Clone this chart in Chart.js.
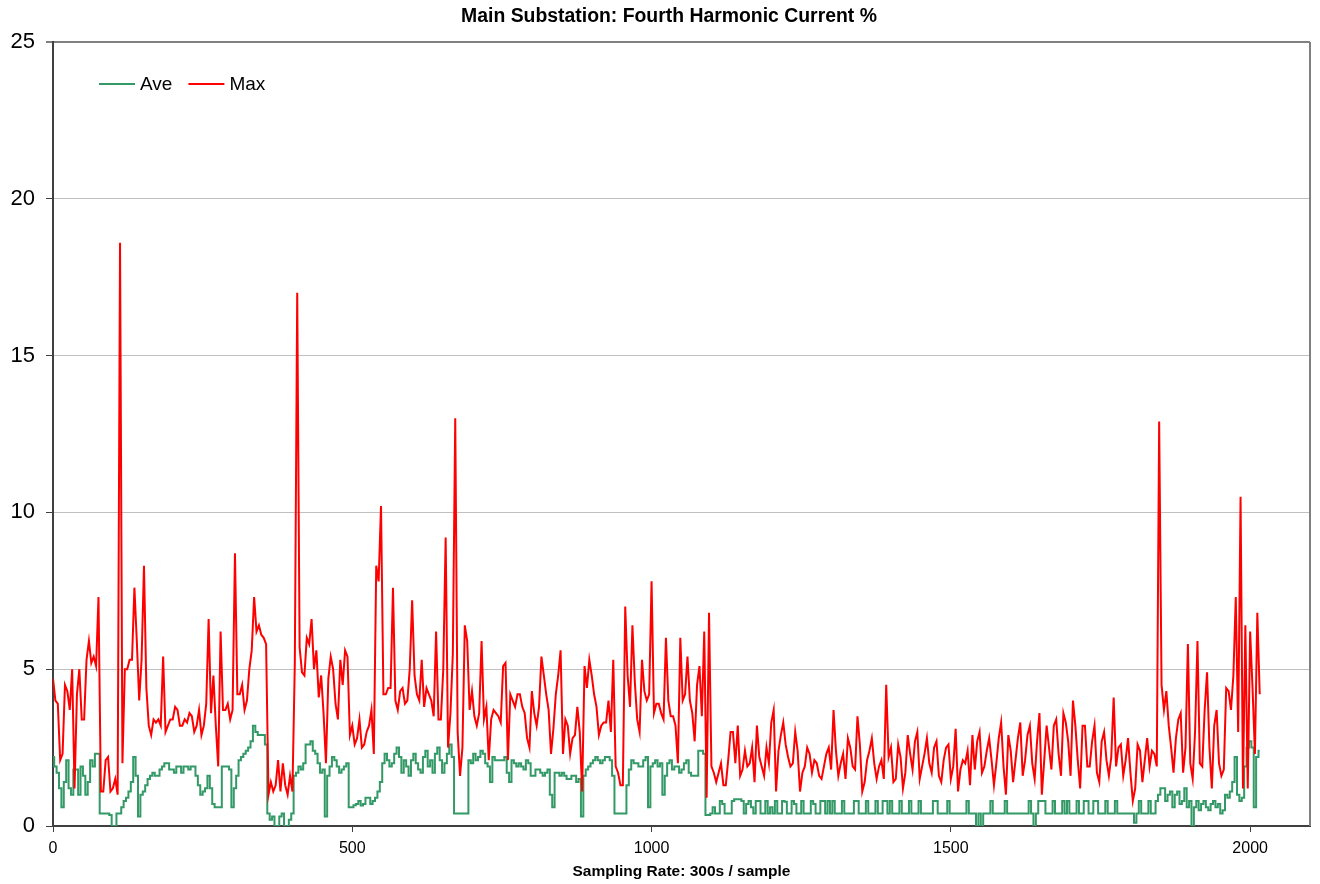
<!DOCTYPE html>
<html>
<head>
<meta charset="utf-8">
<title>Main Substation: Fourth Harmonic Current %</title>
<script src="https://cdn.jsdelivr.net/npm/chart.js@4.4.1/dist/chart.umd.min.js"></script>
<style>
    html, body { margin: 0; padding: 0; background: #fff; }
    #wrap { width: 1320px; height: 884px; position: relative; }
</style>
</head>
<body>
<div id="wrap"><canvas id="myChart"></canvas></div>
<script>
// one value every 4 samples (300 s / sample), 16 per row = 64 samples
const sampleStep = 4;

const maxValues = [
    4.7, 4.0, 3.9, 2.1, 2.3, 4.5, 4.3, 3.7, 5.0, 1.2, 4.2, 5.0, 3.4, 3.4, 5.3, 5.9,
    5.2, 5.4, 5.1, 7.3, 1.1, 1.1, 2.1, 2.2, 1.1, 1.2, 1.5, 1.0, 18.6, 2.0, 5.0, 5.0,
    5.3, 5.3, 7.6, 5.9, 4.0, 5.3, 8.3, 4.4, 3.2, 2.9, 3.4, 3.3, 3.4, 3.2, 5.4, 3.0,
    3.2, 3.4, 3.4, 3.8, 3.7, 3.2, 3.2, 3.4, 3.3, 3.6, 3.5, 3.0, 3.2, 3.7, 2.9, 3.2,
    3.9, 6.6, 3.6, 4.8, 3.2, 1.9, 6.2, 3.7, 3.7, 3.9, 3.4, 3.7, 8.7, 4.2, 4.2, 4.5,
    3.7, 4.0, 5.0, 5.6, 7.3, 6.2, 6.4, 6.1, 6.0, 5.8, 1.0, 1.4, 1.1, 1.3, 2.1, 1.1,
    2.0, 1.3, 1.0, 1.6, 1.1, 5.2, 17.0, 5.7, 4.9, 4.8, 6.0, 5.8, 6.6, 5.0, 5.6, 4.1,
    4.8, 3.6, 2.0, 4.7, 5.4, 5.0, 3.9, 3.4, 5.3, 4.5, 5.6, 5.4, 2.9, 3.2, 2.6, 2.8,
    3.4, 2.5, 2.6, 3.0, 3.2, 3.7, 2.3, 8.3, 7.8, 10.2, 4.2, 4.2, 4.4, 4.4, 7.6, 4.0,
    3.7, 4.3, 4.4, 3.9, 4.0, 5.0, 7.2, 4.8, 4.2, 4.0, 5.3, 3.8, 4.4, 4.2, 4.0, 3.5,
    6.2, 3.4, 3.4, 5.0, 9.2, 2.5, 3.6, 5.5, 13.0, 3.0, 1.6, 2.5, 6.4, 5.9, 3.7, 4.3,
    3.5, 3.2, 3.6, 5.9, 3.4, 3.8, 2.1, 3.4, 3.7, 3.6, 3.5, 3.3, 5.1, 5.2, 2.1, 4.2,
    4.0, 3.8, 4.2, 4.2, 3.8, 3.6, 2.8, 2.5, 4.3, 3.6, 3.2, 3.8, 5.4, 4.8, 4.2, 3.7,
    2.3, 3.1, 4.2, 4.8, 5.6, 2.3, 3.4, 3.2, 2.3, 2.8, 2.9, 3.8, 3.0, 1.1, 5.1, 4.4,
    5.3, 4.8, 4.2, 3.8, 2.9, 3.2, 3.3, 3.3, 4.0, 3.0, 5.3, 1.9, 1.7, 1.3, 1.3, 7.0,
    4.8, 3.8, 6.4, 4.6, 3.4, 3.0, 5.3, 4.3, 4.0, 4.2, 7.8, 3.6, 3.9, 3.9, 3.6, 3.4,
    6.0, 4.0, 3.5, 3.5, 3.2, 2.0, 6.0, 4.0, 4.2, 5.4, 4.0, 3.6, 2.7, 4.5, 5.1, 3.5,
    6.2, 0.9, 6.8, 1.9, 1.7, 1.4, 1.7, 2.0, 1.3, 1.3, 2.1, 3.0, 3.0, 2.0, 3.2, 1.6,
    1.8, 2.4, 1.9, 2.0, 2.5, 1.4, 3.2, 2.2, 1.9, 1.6, 2.5, 2.0, 3.3, 3.7, 1.1, 2.4,
    2.9, 3.3, 2.6, 2.2, 1.9, 2.0, 3.0, 2.4, 1.1, 1.7, 1.9, 2.5, 2.3, 1.7, 2.1, 2.0,
    1.6, 1.5, 1.9, 2.3, 2.5, 1.8, 3.7, 2.4, 1.6, 2.0, 2.3, 1.5, 2.8, 2.5, 1.9, 1.8,
    3.5, 2.6, 1.1, 1.4, 2.1, 2.4, 2.8, 2.0, 1.5, 1.9, 2.1, 1.5, 4.5, 2.2, 2.5, 1.4,
    1.5, 2.6, 2.2, 1.2, 1.7, 2.9, 2.3, 1.8, 2.7, 3.0, 1.5, 1.9, 2.3, 2.8, 2.0, 1.7,
    2.5, 2.7, 1.6, 1.4, 2.1, 2.5, 2.6, 1.5, 1.9, 3.1, 1.1, 1.8, 2.1, 2.0, 2.4, 1.3,
    2.9, 1.8, 2.7, 3.0, 1.7, 1.9, 2.4, 2.8, 2.1, 1.3, 2.0, 2.8, 3.3, 1.9, 1.0, 2.9,
    2.4, 1.4, 2.1, 2.8, 3.3, 1.6, 2.1, 2.9, 3.2, 2.0, 1.5, 2.7, 3.6, 1.0, 2.1, 3.2,
    2.5, 1.8, 3.2, 3.4, 2.3, 1.6, 3.6, 3.3, 2.7, 1.6, 4.0, 3.2, 2.1, 1.2, 3.2, 3.2,
    1.9, 1.9, 2.7, 3.2, 1.7, 1.4, 2.7, 3.0, 2.1, 1.6, 2.2, 4.1, 1.9, 2.5, 2.6, 1.6,
    2.1, 2.8, 1.7, 0.8, 1.2, 2.6, 2.4, 1.4, 2.1, 2.8, 1.9, 2.4, 2.3, 1.9, 12.9, 4.5,
    3.7, 4.3, 3.2, 2.5, 1.7, 2.8, 3.4, 3.6, 1.7, 2.5, 5.8, 2.0, 1.5, 3.0, 5.9, 2.0,
    1.9, 3.7, 4.9, 2.5, 1.2, 3.2, 3.7, 2.0, 1.6, 1.8, 4.4, 4.3, 3.7, 4.8, 7.3, 3.0,
    10.5, 1.2, 6.4, 1.2, 6.2, 4.4, 2.3, 6.8, 4.2
];

const aveValues = [
    2.2, 1.9, 1.7, 1.2, 0.6, 1.4, 2.1, 1.2, 1.0, 1.8, 1.8, 1.0, 1.9, 1.6, 1.0, 1.4,
    2.1, 1.9, 2.3, 2.3, 0.4, 0.4, 0.4, 0.4, 0.35, 0.0, 0.0, 0.4, 0.4, 0.6, 0.8, 0.9,
    1.1, 1.4, 2.2, 1.6, 0.3, 1.0, 1.1, 1.3, 1.5, 1.6, 1.7, 1.6, 1.6, 1.8, 1.9, 2.0,
    2.0, 1.8, 1.8, 1.7, 1.9, 1.9, 1.7, 1.9, 1.9, 1.8, 1.9, 1.9, 1.6, 1.3, 1.0, 1.1,
    1.2, 1.6, 1.2, 0.7, 0.6, 0.6, 0.6, 1.9, 1.9, 1.9, 1.8, 0.6, 1.2, 1.6, 2.1, 2.2,
    2.3, 2.4, 2.5, 2.7, 3.2, 3.0, 2.9, 2.9, 2.9, 2.6, 0.4, 0.2, 0.3, 0.0, 0.0, 0.3,
    0.4, 0.0, 0.0, 0.2, 0.4, 1.6, 1.7, 1.9, 1.8, 2.0, 2.6, 2.6, 2.7, 2.4, 2.3, 2.0,
    1.7, 1.8, 0.3, 1.6, 1.9, 2.2, 2.1, 1.9, 1.7, 1.8, 1.9, 2.0, 0.6, 0.6, 0.66, 0.7,
    0.8, 0.65, 0.7, 0.9, 0.9, 0.7, 0.8, 0.9, 1.1, 1.4, 2.0, 2.3, 2.1, 1.9, 2.0, 2.3,
    2.5, 2.2, 1.7, 2.1, 1.9, 1.6, 2.1, 2.3, 2.0, 1.8, 1.7, 2.2, 2.4, 1.9, 2.1, 1.7,
    2.3, 2.5, 2.1, 1.7, 2.0, 2.3, 2.6, 2.2, 0.4, 0.4, 0.4, 0.4, 0.4, 0.4, 2.1, 2.0,
    2.3, 2.1, 2.2, 2.4, 2.3, 2.0, 1.9, 1.4, 2.2, 2.1, 2.1, 2.1, 2.1, 2.2, 1.7, 1.4,
    2.1, 2.0, 1.9, 2.0, 1.9, 1.8, 2.1, 2.0, 1.6, 1.6, 1.8, 1.8, 1.7, 1.6, 1.7, 1.8,
    1.0, 0.6, 1.7, 1.7, 1.6, 1.7, 1.6, 1.5, 1.5, 1.6, 1.6, 1.4, 1.5, 0.3, 1.6, 1.8,
    1.9, 2.0, 2.1, 2.2, 2.1, 2.0, 2.1, 2.2, 2.2, 2.1, 1.6, 0.4, 0.4, 0.4, 0.4, 0.4,
    1.3, 1.8, 2.1, 2.0, 2.0, 1.9, 1.9, 2.1, 2.2, 0.6, 1.9, 2.0, 2.1, 1.9, 2.0, 1.0,
    1.6, 2.0, 2.1, 1.8, 1.9, 1.9, 1.7, 1.8, 2.0, 2.1, 1.7, 1.6, 1.6, 1.6, 2.4, 2.4,
    2.3, 0.35, 0.35, 0.4, 0.6, 0.4, 0.4, 0.8, 0.7, 0.4, 0.4, 0.4, 0.8, 0.85, 0.85, 0.85,
    0.8, 0.4, 0.7, 0.8, 0.6, 0.4, 0.8, 0.8, 0.4, 0.4, 0.8, 0.4, 0.6, 0.4, 0.8, 0.4,
    0.4, 0.8, 0.77, 0.4, 0.4, 0.8, 0.7, 0.4, 0.4, 0.8, 0.4, 0.4, 0.4, 0.8, 0.7, 0.4,
    0.4, 0.8, 0.8, 0.4, 0.8, 0.4, 0.8, 0.4, 0.4, 0.4, 0.8, 0.4, 0.4, 0.4, 0.4, 0.8,
    0.8, 0.4, 0.4, 0.4, 0.8, 0.4, 0.4, 0.4, 0.8, 0.4, 0.4, 0.8, 0.8, 0.4, 0.8, 0.4,
    0.4, 0.4, 0.8, 0.4, 0.4, 0.4, 0.8, 0.4, 0.4, 0.4, 0.8, 0.4, 0.4, 0.4, 0.4, 0.4,
    0.8, 0.8, 0.4, 0.4, 0.4, 0.4, 0.8, 0.4, 0.4, 0.4, 0.4, 0.4, 0.4, 0.4, 0.8, 0.4,
    0.4, 0.4, 0.0, 0.4, 0.0, 0.4, 0.4, 0.4, 0.8, 0.4, 0.4, 0.4, 0.4, 0.4, 0.8, 0.4,
    0.4, 0.4, 0.4, 0.4, 0.4, 0.4, 0.4, 0.4, 0.8, 0.4, 0.0, 0.4, 0.8, 0.8, 0.8, 0.4,
    0.4, 0.4, 0.8, 0.4, 0.4, 0.4, 0.8, 0.4, 0.8, 0.4, 0.4, 0.4, 0.8, 0.4, 0.4, 0.8,
    0.8, 0.4, 0.4, 0.8, 0.8, 0.4, 0.4, 0.4, 0.8, 0.4, 0.4, 0.4, 0.8, 0.4, 0.4, 0.4,
    0.4, 0.4, 0.4, 0.4, 0.1, 0.4, 0.8, 0.4, 0.4, 0.4, 0.8, 0.4, 0.4, 0.8, 1.0, 1.2,
    1.2, 0.8, 1.0, 1.1, 0.6, 1.0, 1.1, 0.7, 0.8, 1.2, 0.6, 0.8, 0.0, 0.6, 0.8, 0.5,
    0.7, 0.8, 0.6, 0.5, 0.7, 0.8, 0.6, 0.7, 0.4, 0.5, 1.0, 0.9, 1.1, 1.4, 2.2, 1.0,
    0.8, 0.9, 1.9, 2.5, 2.7, 2.5, 0.6, 2.2, 2.4
];

const seriesNames = ["Ave", "Max"];
const seriesColors = ["#339966", "#ff0000"];
const yTicks = [0, 5, 10, 15, 20, 25];
const xTicks = [0, 500, 1000, 1500, 2000];
const chartTitle = "Main Substation: Fourth Harmonic Current %";
const xTitle = "Sampling Rate: 300s / sample";

const fontName = "'Liberation Sans', Arial, sans-serif";

function toPoints(values) {
    return values.map((v, i) => ({ x: i * sampleStep, y: v }));
}

// title, legend in the plot and the right border, drawn by hand
const decorations = {
    id: 'decorations',
    afterDatasetsDraw(chart) {
        const ctx = chart.ctx;
        const area = chart.chartArea;
        ctx.save();

        // right frame
        ctx.strokeStyle = '#808080';
        ctx.lineWidth = 2;
        ctx.beginPath();
        ctx.moveTo(area.right, area.top);
        ctx.lineTo(area.right, area.bottom);
        ctx.stroke();

        // title
        ctx.fillStyle = '#000';
        ctx.font = "bold 19.4px " + fontName;
        ctx.textAlign = 'center';
        ctx.textBaseline = 'middle';
        ctx.fillText(chartTitle, 669, 17);

        // legend
        ctx.font = "19px " + fontName;
        ctx.textAlign = 'left';
        let x = area.left + 46;
        const y = area.top + 42;
        seriesNames.forEach((name, i) => {
            ctx.strokeStyle = seriesColors[i];
            ctx.lineWidth = 2;
            ctx.beginPath();
            ctx.moveTo(x, y);
            ctx.lineTo(x + 36, y);
            ctx.stroke();
            ctx.fillStyle = '#000';
            ctx.fillText(name, x + 41, y + 1);
            x += 41 + ctx.measureText(name).width + 16;
        });
        ctx.restore();
    }
};

new Chart("myChart", {
    type: "line",
    data: {
        datasets: [
            {
                label: seriesNames[0],
                data: toPoints(aveValues),
                borderColor: seriesColors[0],
                borderWidth: 2,
                pointRadius: 0,
                stepped: 'middle',
                order: 2
            },
            {
                label: seriesNames[1],
                data: toPoints(maxValues),
                borderColor: seriesColors[1],
                borderWidth: 2,
                pointRadius: 0,
                tension: 0,
                order: 1
            }
        ]
    },
    options: {
        responsive: true,
        maintainAspectRatio: false,
        animation: false,
        parsing: false,
        layout: {
            padding: { top: 42, right: 10, left: 0, bottom: 0 }
        },
        plugins: {
            legend: { display: false },
            title: { display: false },
            tooltip: { enabled: false }
        },
        scales: {
            x: {
                type: 'linear',
                min: 0,
                max: 2100,
                afterFit: scale => { scale.height = 58; },
                afterBuildTicks: scale => {
                    scale.ticks = xTicks.map(v => ({ value: v }));
                },
                ticks: {
                    color: '#000',
                    font: { family: fontName, size: 16 },
                    padding: 7,
                    maxRotation: 0,
                    callback: value => String(value)
                },
                grid: {
                    drawOnChartArea: false,
                    drawTicks: true,
                    tickLength: 6,
                    tickColor: '#404040'
                },
                border: { color: '#404040', width: 2 },
                title: {
                    display: true,
                    text: xTitle,
                    color: '#000',
                    font: { family: fontName, size: 15.5, weight: 'bold' },
                    padding: { top: 0, bottom: 3 }
                }
            },
            y: {
                min: 0,
                max: 25,
                afterFit: scale => { scale.width = 53; },
                afterBuildTicks: scale => {
                    scale.ticks = yTicks.map(v => ({ value: v }));
                },
                ticks: {
                    color: '#000',
                    font: { family: fontName, size: 22 },
                    padding: 11
                },
                grid: {
                    color: ctx => ctx.tick && ctx.tick.value === 25 ? '#808080' : '#c0c0c0',
                    lineWidth: ctx => ctx.tick && ctx.tick.value === 25 ? 2 : 1,
                    tickLength: 7,
                    tickColor: ctx => ctx.tick && ctx.tick.value === 25 ? '#808080' : '#404040'
                },
                border: { color: '#404040', width: 2 }
            }
        }
    },
    plugins: [decorations]
});
</script>
</body>
</html>
